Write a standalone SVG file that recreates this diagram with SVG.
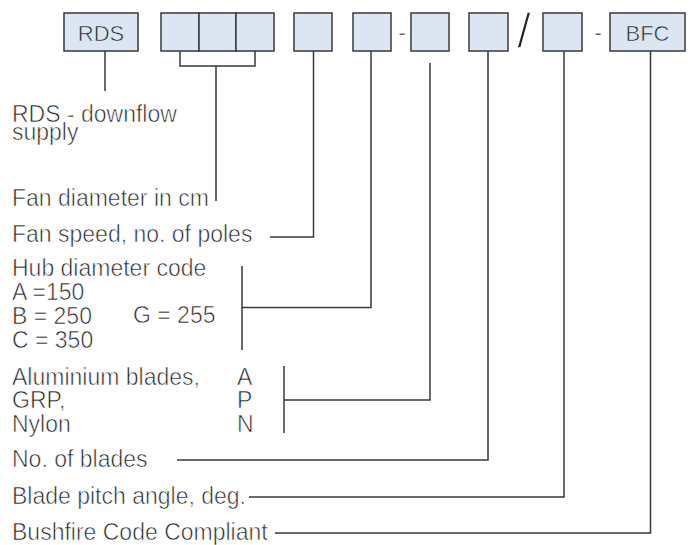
<svg xmlns="http://www.w3.org/2000/svg" width="694" height="545" viewBox="0 0 694 545">
<style>
.box{fill:#dce6f3;stroke:#3a3a3a;stroke-width:1.5}
.bt{font-family:"Liberation Sans",Arial,sans-serif;font-size:22px;fill:#262626;text-anchor:middle;stroke:#dce6f3;stroke-width:0.6}
.t{font-family:"Liberation Sans",Arial,sans-serif;font-size:23px;fill:#262626;stroke:#ffffff;stroke-width:0.6}
.c{fill:none;stroke:#3a3a3a;stroke-width:1.5}
</style>
<rect width="694" height="545" fill="#ffffff"/>
<g id="node-rds"><rect class="box" x="64" y="13" width="74" height="38"/><text class="bt" x="101" y="41">RDS</text></g>
<g id="node-fan-diameter"><rect class="box" x="161" y="13" width="38" height="38"/><rect class="box" x="199" y="13" width="37" height="38"/><rect class="box" x="236" y="13" width="38" height="38"/></g>
<g id="node-fan-speed"><rect class="box" x="294" y="13" width="38" height="38"/></g>
<g id="node-hub"><rect class="box" x="353" y="13" width="38" height="38"/></g>
<text class="t" x="402" y="40" text-anchor="middle">-</text>
<g id="node-material"><rect class="box" x="411" y="13" width="38" height="38"/></g>
<g id="node-blades"><rect class="box" x="469" y="13" width="39" height="38"/></g>
<text x="524" y="48" font-family="Liberation Sans,Arial,sans-serif" font-size="50" fill="#262626" stroke="#ffffff" stroke-width="1.4" text-anchor="middle">/</text>
<g id="node-pitch"><rect class="box" x="543" y="13" width="39" height="38"/></g>
<text class="t" x="598" y="40" text-anchor="middle">-</text>
<g id="node-bfc"><rect class="box" x="610" y="13" width="75" height="38"/><text class="bt" x="647.5" y="41">BFC</text></g>

<g id="labels">
<text class="t" x="12" y="122">RDS - downflow</text>
<text class="t" x="12" y="140">supply</text>
<text class="t" x="12" y="205.5">Fan diameter in cm</text>
<text class="t" x="12" y="242">Fan speed, no. of poles</text>
<text class="t" x="12" y="276">Hub diameter code</text>
<text class="t" x="12" y="300">A =150</text>
<text class="t" x="12" y="324">B = 250</text>
<text class="t" x="12" y="347.5">C = 350</text>
<text class="t" x="133" y="323">G = 255</text>
<text class="t" x="12" y="385">Aluminium blades,</text>
<text class="t" x="12" y="408">GRP,</text>
<text class="t" x="12" y="432">Nylon</text>
<text class="t" x="237" y="385">A</text>
<text class="t" x="237" y="408">P</text>
<text class="t" x="237" y="432">N</text>
<text class="t" x="12" y="467">No. of blades</text>
<text class="t" x="12" y="504">Blade pitch angle, deg.</text>
<text class="t" x="12" y="540">Bushfire Code Compliant</text>
</g>

<g id="connectors">
<path class="c" d="M105 51V91"/>
<path class="c" d="M180 51V66H255V51M216 66V201"/>
<path class="c" d="M313.5 51V237H270"/>
<path class="c" d="M371 51V307.5H242M242 266V350"/>
<path class="c" d="M430 63V400H284M284 366V433"/>
<path class="c" d="M488 51V460H177"/>
<path class="c" d="M564 51V497H249"/>
<path class="c" d="M650.5 51V533H275"/>
</g>
</svg>
